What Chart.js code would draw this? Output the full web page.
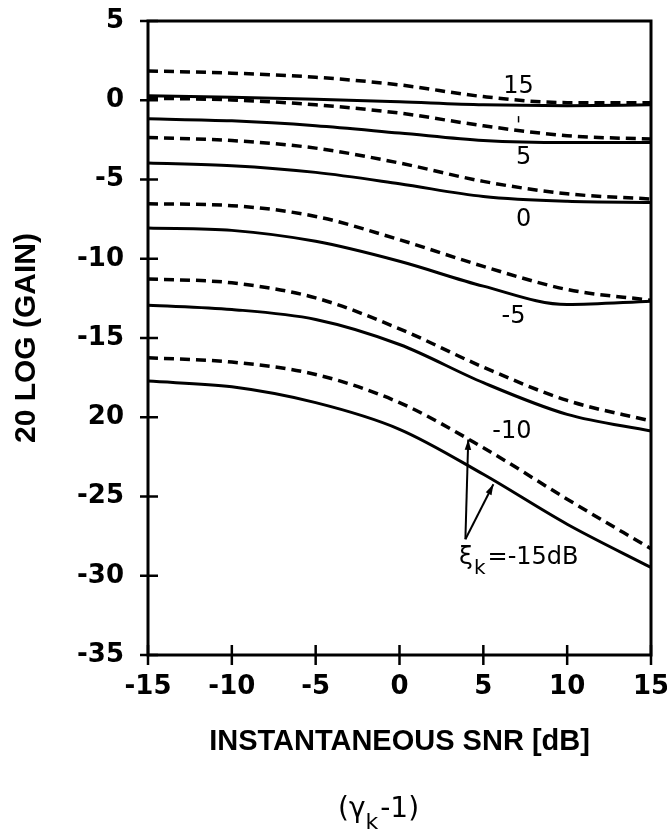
<!DOCTYPE html>
<html>
<head>
<meta charset="utf-8">
<script src="https://cdn.jsdelivr.net/npm/chart.js@4/dist/chart.umd.min.js"></script>
<style>
  html, body { margin: 0; padding: 0; background: #fff; }
  #wrap { width: 667px; height: 838px; }
</style>
</head>
<body>
<div id="wrap"><canvas id="gainChart" width="667" height="838"></canvas></div>
<script>
// instantaneous SNR (x axis)
const snr = [-15, -10, -5, 0, 5, 10, 15];

// 20 log(gain); dashed / solid pair for each a priori SNR
const xi15Dashed  = [1.85, 1.71, 1.45, 0.97, 0.23, -0.15, -0.15];
const xi15Solid   = [0.28, 0.19, 0.07, -0.1, -0.29, -0.34, -0.29];
const xi5Dashed   = [0.13, 0.02, -0.29, -0.81, -1.61, -2.24, -2.45];
const xi5Solid    = [-1.17, -1.3, -1.61, -2.07, -2.54, -2.67, -2.67];
const xi0Dashed   = [-2.35, -2.54, -3.02, -3.96, -5.12, -5.9, -6.23];
const xi0Solid    = [-3.96, -4.13, -4.55, -5.27, -6.07, -6.38, -6.45];
const xiM5Dashed  = [-6.53, -6.65, -7.33, -8.8, -10.48, -11.94, -12.62];
const xiM5Solid   = [-8.06, -8.21, -8.9, -10.16, -11.73, -12.89, -12.68];
const xiM10Dashed = [-11.27, -11.52, -12.47, -14.42, -16.84, -18.94, -20.24];
const xiM10Solid  = [-12.93, -13.2, -13.83, -15.41, -17.82, -19.82, -20.87];
const xiM15Dashed = [-16.25, -16.52, -17.3, -19.08, -21.92, -25.17, -28.3];
const xiM15Solid  = [-17.72, -18.08, -19.08, -20.76, -23.6, -26.75, -29.48];

// tick labels (the original prints "20" without the minus sign)
const xTicks = [-15, -10, -5, 0, 5, 10, 15];
const xTickText = ['-15', '-10', '-5', '0', '5', '10', '15'];
const yTicks = [5, 0, -5, -10, -15, -20, -25, -30, -35];
const yTickText = ['5', '0', '-5', '-10', '-15', '20', '-25', '-30', '-35'];

// curve labels
const curveLabels = ['15', '5', '0', '-5', '-10'];
const curveLabelX = [7.1, 7.4, 7.4, 6.8, 6.7];
const curveLabelY = [0.85, -3.63, -7.54, -13.65, -20.9];

const FONT = '"DejaVu Sans", sans-serif';
const TITLE_FONT = '"Liberation Sans", sans-serif';

const toPts = arr => snr.map((x, i) => ({ x: x, y: arr[i] }));

const series = [
  xi15Dashed, xi15Solid, xi5Dashed, xi5Solid, xi0Dashed, xi0Solid,
  xiM5Dashed, xiM5Solid, xiM10Dashed, xiM10Solid, xiM15Dashed, xiM15Solid
];

const datasets = series.map((arr, i) => {
  const dashed = i % 2 === 0;
  return {
    data: toPts(arr),
    borderColor: '#000',
    borderWidth: dashed ? 3.5 : 3,
    borderDash: dashed ? [10, 6] : [],
    cubicInterpolationMode: 'monotone',
    pointRadius: 0,
    fill: false
  };
});

const arrow = (ctx, x0, y0, x1, y1) => {
  ctx.beginPath();
  ctx.moveTo(x0, y0);
  ctx.lineTo(x1, y1);
  ctx.stroke();
  const a = Math.atan2(y1 - y0, x1 - x0);
  ctx.beginPath();
  ctx.moveTo(x1, y1);
  ctx.lineTo(x1 - 11 * Math.cos(a - 0.3), y1 - 11 * Math.sin(a - 0.3));
  ctx.lineTo(x1 - 11 * Math.cos(a + 0.3), y1 - 11 * Math.sin(a + 0.3));
  ctx.closePath();
  ctx.fill();
};

const decorations = {
  id: 'decorations',
  afterDatasetsDraw(chart) {
    const { ctx, chartArea: a, scales: { x, y } } = chart;
    ctx.save();
    ctx.strokeStyle = '#000';
    ctx.fillStyle = '#000';

    // box
    ctx.lineWidth = 3;
    ctx.strokeRect(a.left, a.top, a.right - a.left, a.bottom - a.top);

    // ticks crossing the axes
    ctx.lineWidth = 2.5;
    yTicks.forEach(v => {
      const py = y.getPixelForValue(v);
      ctx.beginPath();
      ctx.moveTo(a.left - 8, py);
      ctx.lineTo(a.left + 10, py);
      ctx.stroke();
    });
    xTicks.forEach(v => {
      const px = x.getPixelForValue(v);
      ctx.beginPath();
      ctx.moveTo(px, a.bottom - 10);
      ctx.lineTo(px, a.bottom + 10);
      ctx.stroke();
    });

    // curve labels
    ctx.font = '24px ' + FONT;
    ctx.textAlign = 'center';
    ctx.textBaseline = 'middle';
    curveLabels.forEach((t, i) => {
      ctx.fillText(t, x.getPixelForValue(curveLabelX[i]), y.getPixelForValue(curveLabelY[i]));
    });

    // small mark under the "15" label
    ctx.lineWidth = 1.5;
    ctx.beginPath();
    ctx.moveTo(x.getPixelForValue(7.1), y.getPixelForValue(-1.0));
    ctx.lineTo(x.getPixelForValue(7.1), y.getPixelForValue(-1.4));
    ctx.stroke();

    // xi_k = -15 dB with two arrows
    ctx.lineWidth = 2;
    const ox = x.getPixelForValue(3.93), oy = y.getPixelForValue(-27.7);
    arrow(ctx, ox, oy, x.getPixelForValue(4.1), y.getPixelForValue(-21.4));
    arrow(ctx, ox, oy, x.getPixelForValue(5.6), y.getPixelForValue(-24.23));

    const lx = x.getPixelForValue(3.55), ly = y.getPixelForValue(-28.85);
    ctx.textAlign = 'left';
    ctx.font = '25px ' + FONT;
    ctx.fillText('\u03BE', lx, ly);
    let w = ctx.measureText('\u03BE').width;
    ctx.font = '20px ' + FONT;
    ctx.fillText('k', lx + w + 1, ly + 11);
    w += ctx.measureText('k').width + 3;
    ctx.font = '24px ' + FONT;
    ctx.fillText('=-15dB', lx + w, ly);

    // (gamma_k - 1) under the axis title
    const gx = 338, gy = 810;
    ctx.font = '28px ' + FONT;
    ctx.fillText('(\u03B3', gx, gy);
    let gw = ctx.measureText('(\u03B3').width;
    ctx.font = '22px ' + FONT;
    ctx.fillText('k', gx + gw, gy + 13);
    gw += ctx.measureText('k').width + 2;
    ctx.font = '28px ' + FONT;
    ctx.fillText('-1)', gx + gw, gy);

    ctx.restore();
  }
};

new Chart(document.getElementById('gainChart'), {
  type: 'line',
  data: { datasets: datasets },
  options: {
    responsive: false,
    animation: false,
    layout: { padding: { top: 21, right: 16, left: 0, bottom: 0 } },
    plugins: { legend: { display: false }, tooltip: { enabled: false } },
    scales: {
      x: {
        type: 'linear',
        min: -15,
        max: 15,
        afterFit: s => { s.height = 183; s.paddingLeft = 0; s.paddingRight = 0; },
        afterBuildTicks: s => { s.ticks = xTicks.map(v => ({ value: v })); },
        grid: { display: false },
        border: { display: false },
        ticks: {
          color: '#000',
          font: { family: FONT, size: 26, weight: 'bold' },
          padding: 9,
          maxRotation: 0,
          callback: v => xTickText[xTicks.indexOf(v)]
        },
        title: {
          display: true,
          text: 'INSTANTANEOUS SNR [dB]',
          color: '#000',
          font: { family: TITLE_FONT, size: 29, weight: 'bold' },
          padding: { top: 0, bottom: 79 }
        }
      },
      y: {
        min: -35,
        max: 5,
        afterFit: s => { s.width = 148; s.paddingTop = 0; s.paddingBottom = 0; },
        afterBuildTicks: s => { s.ticks = yTicks.map(v => ({ value: v })); },
        grid: { display: false },
        border: { display: false },
        ticks: {
          color: '#000',
          font: { family: FONT, size: 26, weight: 'bold' },
          padding: 16,
          callback: v => yTickText[yTicks.indexOf(v)]
        },
        title: {
          display: true,
          text: '20 LOG (GAIN)',
          color: '#000',
          font: { family: TITLE_FONT, size: 30, weight: 'bold' },
          padding: { top: 9, bottom: 0 }
        }
      }
    }
  },
  plugins: [decorations]
});
</script>
</body>
</html>
